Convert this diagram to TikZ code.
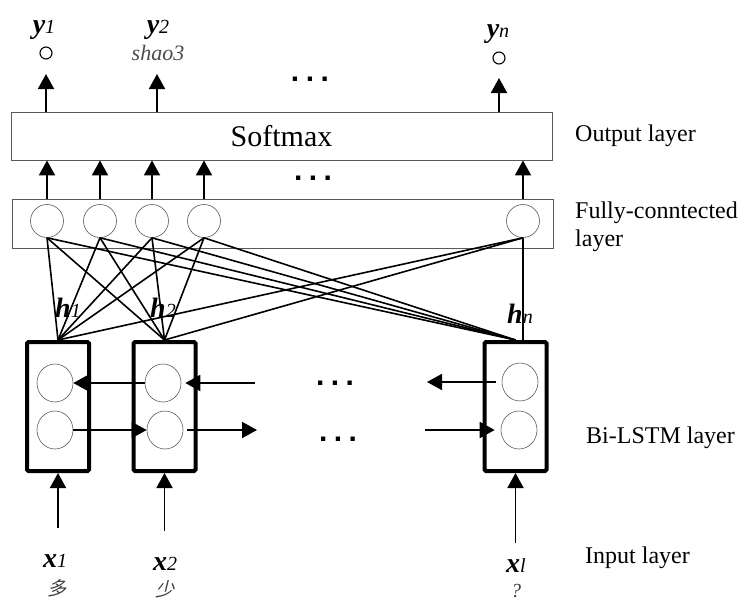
\documentclass[tikz,border=0pt]{standalone}
\usepackage{fontspec}
\setmainfont{Liberation Serif}
\setsansfont{Liberation Sans}
\newfontfamily\cjk[FakeSlant=0.25]{Noto Sans CJK SC}
\usetikzlibrary{arrows.meta,shapes.geometric}

\newcommand{\lbl}[2]{{\fontsize{28}{28}\selectfont\bfseries\itshape #1}{\fontsize{20}{20}\selectfont\itshape #2}}
\newcommand{\tdots}{{\sffamily\bfseries\fontsize{30}{30}\selectfont .\hspace{6.5pt}.\hspace{6.5pt}.}}

\begin{document}
\begin{tikzpicture}[x=1pt,y=-1pt,
    box/.style={draw=black!65, line width=0.9pt, inner sep=0pt},
    unit/.style={circle, draw=black!65, line width=0.6pt, minimum size=33pt, inner sep=0pt},
    cell/.style={ellipse, draw=black!65, line width=0.6pt, minimum width=36pt, minimum height=38pt, inner sep=0pt},
    lstm/.style={draw, line width=4pt, rounded corners=1.5pt, minimum width=62pt, minimum height=129pt, inner sep=0pt},
    yout/.style={circle, draw, line width=1.1pt, minimum size=12pt, inner sep=0pt},
    arr/.style={-{Triangle[length=15pt,width=16pt]}, line width=1.9pt},
    link/.style={line width=1.6pt},
    layer/.style={anchor=base west, font=\fontsize{24}{28}\selectfont, inner sep=0pt},
    lab/.style={anchor=base, inner sep=0pt}]
    \useasboundingbox (0,0) rectangle (745,603);

    % Output layer
    \node[box, minimum width=541pt, minimum height=48pt, font=\fontsize{30}{30}\selectfont] (smax) at (281.5,136) {Softmax};
    \node[yout] (yoA) at (46,53) {};
    \node[lab, font=\fontsize{22}{22}\selectfont\itshape, text=black!70] (yoB) at (158,60) {shao3};
    \node[yout] (yoN) at (499,58) {};
    \node[lab] (ylA) at (44,33) {\lbl{y}{1}};
    \node[lab] (ylB) at (158,33) {\lbl{y}{2}};
    \node[lab] (ylN) at (498,37) {\lbl{y}{n}};
    \node[lab] (dotsY) at (310,81.5) {\tdots};

    % Arrows softmax -> y
    \coordinate (tipA) at (46,74);
    \coordinate (tipB) at (157,74);
    \coordinate (tipN) at (499,78);
    \draw[arr] (smax.north -| tipA) -- (tipA);
    \draw[arr] (smax.north -| tipB) -- (tipB);
    \draw[arr] (smax.north -| tipN) -- (tipN);

    % Fully-connected layer
    \node[box, minimum width=541pt, minimum height=49pt] (fcbox) at (282.5,223.5) {};
    \node[unit] (fcA) at (47,221) {};
    \node[unit] (fcB) at (100,221) {};
    \node[unit] (fcC) at (152,221) {};
    \node[unit] (fcD) at (204,221) {};
    \node[unit] (fcN) at (523,221) {};
    \node[lab] (dotsS) at (313,180.5) {\tdots};

    % Arrows fc -> softmax
    \draw[arr] (fcbox.north -| fcA) -- (smax.south -| fcA);
    \draw[arr] (fcbox.north -| fcB) -- (smax.south -| fcB);
    \draw[arr] (fcbox.north -| fcC) -- (smax.south -| fcC);
    \draw[arr] (fcbox.north -| fcD) -- (smax.south -| fcD);
    \draw[arr] (fcbox.north -| fcN) -- (smax.south -| fcN);

    % Bi-LSTM layer
    \node[lstm] (lstmA) at (58,406.5) {};
    \node[lstm] (lstmB) at (164.5,406.5) {};
    \node[lstm] (lstmN) at (515.5,406.5) {};
    \node[cell] (upA) at (55,383) {};
    \node[cell] (loA) at (55,430) {};
    \node[cell] (upB) at (163,383) {};
    \node[cell] (loB) at (165,430) {};
    \node[cell] (upN) at (520,382) {};
    \node[cell] (loN) at (519,430) {};
    \node[lab] (dotsU) at (335,385.5) {\tdots};
    \node[lab] (dotsL) at (338,441.5) {\tdots};
    \node[lab] (hlA) at (68,317) {\lbl{h}{1}};
    \node[lab] (hlB) at (163,317) {\lbl{h}{2}};
    \node[lab] (hlN) at (520,323) {\lbl{h}{n}};

    % Drawing links fc -> h
    \draw[link] (fcA.south) -- (lstmA.north);
    \draw[link] (fcA.south) -- (lstmB.north);
    \draw[link] (fcA.south) -- (lstmN.north);
    \draw[link] (fcB.south) -- (lstmA.north);
    \draw[link] (fcB.south) -- (lstmB.north);
    \draw[link] (fcB.south) -- (lstmN.north);
    \draw[link] (fcC.south) -- (lstmA.north);
    \draw[link] (fcC.south) -- (lstmB.north);
    \draw[link] (fcC.south) -- (lstmN.north);
    \draw[link] (fcD.south) -- (lstmA.north);
    \draw[link] (fcD.south) -- (lstmB.north);
    \draw[link] (fcD.south) -- (lstmN.north);
    \draw[link] (fcN.south) -- (lstmA.north);
    \draw[link] (fcN.south) -- (lstmB.north);
    \draw[link] (fcN.south) -- (fcN.south |- lstmN.north);

    % Drawing recurrent arrows
    \coordinate (bwB) at (255,383);
    \coordinate (fwB) at (257,430);
    \coordinate (bwN) at (427,382);
    \coordinate (fwN) at (425,430);
    \draw[arr] (upB.west) -- (upA.east);
    \draw[arr, shorten >=4pt] (bwB) -- (upB.east);
    \draw[arr] (loA.east) -- (loB.west);
    \draw[arr, shorten <=4pt] (loB.east) -- (fwB);
    \draw[arr, shorten <=6pt] (upN.west) -- (bwN);
    \draw[arr, shorten >=6pt] (fwN) -- (loN.west);

    % Input layer
    \coordinate (inA) at (58,528);
    \coordinate (inB) at (164.5,531);
    \coordinate (inN) at (515.5,543);
    \draw[arr] (inA) -- (lstmA.south);
    \draw[arr] (inB) -- (lstmB.south);
    \draw[arr] (inN) -- (lstmN.south);
    \node[lab] (xlA) at (55,567) {\lbl{x}{1}};
    \node[lab] (xlB) at (165,570) {\lbl{x}{2}};
    \node[lab] (xlN) at (516,572) {\lbl{x}{l}};
    \node[lab, font=\cjk\fontsize{19}{19}\selectfont, text=black!75] (chA) at (57,595) {多};
    \node[lab, font=\cjk\fontsize{19}{19}\selectfont, text=black!75] (chB) at (165,596) {少};
    \node[lab, font=\fontsize{20}{20}\selectfont\itshape, text=black!75] (chN) at (516,597) {?};

    % Layer names
    \node[layer] (nmOut) at (575,141) {Output layer};
    \node[layer, anchor=west, align=left] (nmFc) at (575,227) {Fully-conntected\\layer};
    \node[layer] (nmLstm) at (586,443) {Bi-LSTM layer};
    \node[layer] (nmIn) at (585,563) {Input layer};
\end{tikzpicture}
\end{document}
